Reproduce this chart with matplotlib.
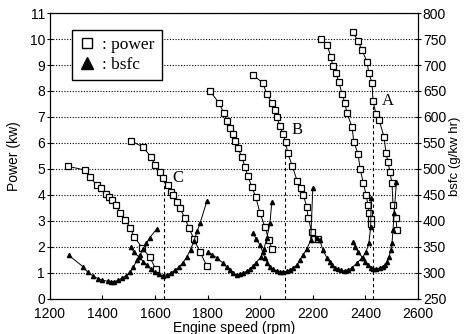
import matplotlib.pyplot as plt
from matplotlib.lines import Line2D

# power curves (engine speed in rpm, power in kW)
p1_rpm = [1270, 1333, 1352, 1379, 1394, 1413, 1424, 1436, 1450, 1468, 1487, 1506, 1521, 1552, 1580, 1603]
p1_kw = [5.1, 4.96, 4.69, 4.38, 4.27, 4.05, 3.92, 3.8, 3.63, 3.31, 3.04, 2.73, 2.38, 1.96, 1.6, 1.15]
p2_rpm = [1508, 1554, 1584, 1600, 1618, 1630, 1649, 1660, 1668, 1683, 1694, 1713, 1729, 1748, 1770, 1797]
p2_kw = [6.08, 5.85, 5.47, 5.15, 4.88, 4.65, 4.38, 4.12, 4.0, 3.73, 3.5, 3.12, 2.73, 2.3, 1.82, 1.27]
p3_rpm = [1809, 1843, 1862, 1873, 1885, 1895, 1904, 1915, 1930, 1942, 1953, 1968, 1983, 1999, 2018, 2033, 2044]
p3_kw = [8.0, 7.54, 7.15, 6.85, 6.58, 6.35, 6.08, 5.81, 5.46, 5.08, 4.73, 4.31, 3.92, 3.31, 2.77, 2.27, 1.94]
p4_rpm = [1972, 2010, 2025, 2044, 2056, 2063, 2075, 2086, 2097, 2104, 2122, 2140, 2155, 2164, 2177, 2182, 2196, 2204, 2218]
p4_kw = [8.62, 8.31, 7.88, 7.54, 7.27, 7.0, 6.65, 6.35, 6.04, 5.62, 5.12, 4.55, 4.25, 4.0, 3.54, 3.12, 2.58, 2.3, 2.3]
p5_rpm = [2230, 2254, 2269, 2276, 2288, 2299, 2311, 2322, 2330, 2349, 2356, 2372, 2380, 2392, 2403, 2410, 2415, 2420, 2422]
p5_kw = [10.0, 9.77, 9.31, 8.96, 8.69, 8.35, 7.88, 7.54, 7.15, 6.62, 6.04, 5.58, 5.0, 4.46, 4.0, 3.6, 3.3, 3.08, 2.88]
p6_rpm = [2352, 2372, 2387, 2406, 2413, 2425, 2429, 2440, 2452, 2471, 2478, 2486, 2493, 2501, 2505, 2516, 2520]
p6_kw = [10.27, 9.92, 9.58, 9.12, 8.69, 8.31, 7.62, 7.12, 6.88, 6.23, 5.62, 5.27, 4.88, 4.46, 3.62, 3.12, 2.65]

# bsfc curves (g/kW hr)
b1_rpm = [1272, 1326, 1345, 1365, 1383, 1400, 1420, 1432, 1445, 1460, 1475, 1490, 1505, 1518, 1531, 1543, 1554, 1567, 1580, 1607]
b1_g = [334, 312, 301, 294, 289, 286, 284, 283, 283, 286, 290, 295, 302, 312, 324, 335, 346, 357, 368, 385]
b2_rpm = [1508, 1520, 1540, 1555, 1570, 1585, 1600, 1615, 1630, 1645, 1660, 1675, 1690, 1705, 1720, 1735, 1748, 1760, 1772, 1797]
b2_g = [350, 340, 330, 322, 315, 307, 301, 297, 295, 296, 300, 305, 311, 319, 330, 345, 362, 380, 397, 438]
b3_rpm = [1801, 1818, 1835, 1858, 1872, 1885, 1898, 1911, 1922, 1934, 1948, 1961, 1972, 1983, 2003, 2014, 2025, 2037, 2044]
b3_g = [340, 335, 329, 319, 312, 306, 300, 296, 297, 300, 303, 307, 313, 319, 331, 346, 367, 396, 436]
b4_rpm = [1972, 1985, 1999, 2010, 2018, 2027, 2037, 2050, 2063, 2075, 2086, 2100, 2113, 2126, 2139, 2150, 2162, 2177, 2192, 2200]
b4_g = [377, 365, 354, 340, 329, 320, 311, 307, 304, 302, 302, 303, 306, 310, 315, 324, 334, 346, 363, 463]
b5_rpm = [2215, 2227, 2238, 2254, 2264, 2272, 2284, 2295, 2308, 2322, 2335, 2349, 2368, 2387, 2402, 2413, 2420, 2422]
b5_g = [367, 363, 344, 329, 321, 315, 310, 307, 305, 304, 306, 310, 319, 329, 340, 357, 388, 445]
b6_rpm = [2352, 2362, 2372, 2390, 2400, 2410, 2420, 2429, 2442, 2455, 2465, 2474, 2483, 2490, 2497, 2501, 2505, 2509, 2518]
b6_g = [359, 350, 340, 329, 322, 315, 310, 307, 307, 310, 312, 315, 322, 331, 345, 357, 382, 415, 475]

power_curves = [(p1_rpm, p1_kw), (p2_rpm, p2_kw), (p3_rpm, p3_kw),
                (p4_rpm, p4_kw), (p5_rpm, p5_kw), (p6_rpm, p6_kw)]
bsfc_curves = [(b1_rpm, b1_g), (b2_rpm, b2_g), (b3_rpm, b3_g),
               (b4_rpm, b4_g), (b5_rpm, b5_g), (b6_rpm, b6_g)]

# operating points marked by dashed lines
mark_names = ['C', 'B', 'A']
mark_rpm = [1635, 2094, 2430]
mark_kw = [4.6, 6.0, 7.5]
mark_text_rpm = [1687, 2140, 2486]
mark_text_kw = [4.65, 6.5, 7.6]

plt.rcParams['font.family'] = ['Liberation Sans', 'DejaVu Sans']

fig = plt.figure(figsize=(4.66, 3.34), dpi=100)
ax = fig.add_axes([0.107, 0.105, 0.79, 0.856])
ax2 = ax.twinx()

for rpm, kw in power_curves:
    ax.plot(rpm, kw, color='black', linewidth=0.7, marker='s', markersize=4.5,
            markerfacecolor='white', markeredgecolor='black', markeredgewidth=0.9, zorder=4)

for rpm, g in bsfc_curves:
    ax2.plot(rpm, g, color='black', linewidth=0.7, marker='^', markersize=3,
             markerfacecolor='black', markeredgecolor='black', zorder=3)

for name, x, top, tx, ty in zip(mark_names, mark_rpm, mark_kw, mark_text_rpm, mark_text_kw):
    ax.plot([x, x], [0, top], color='black', linewidth=0.8, linestyle=(0, (3, 2.5)), zorder=2)
    ax.text(tx, ty, name, family='Liberation Serif', fontsize=12, ha='center', va='center')

ax.set_xlim(1200, 2600)
ax.set_ylim(0, 11)
ax2.set_ylim(250, 800)
ax.set_xticks(range(1200, 2601, 200))
ax.set_yticks(range(0, 12))
ax2.set_yticks(range(250, 801, 50))

ax.grid(axis='y', color='black', linestyle=(0, (1, 1.5)), linewidth=0.8)
ax.set_axisbelow(True)

ax.tick_params(axis='y', direction='inout', length=5, labelsize=10, pad=1)
ax.tick_params(axis='x', direction='in', length=3, labelsize=10, pad=6)
ax2.tick_params(axis='y', direction='inout', length=5, labelsize=10, pad=1)

ax.set_xlabel('Engine speed (rpm)', fontsize=10, labelpad=0)
ax.set_ylabel('Power (kw)', fontsize=10, labelpad=6)
ax2.set_ylabel('bsfc (g/kw hr)', fontsize=9.5, labelpad=2)

handles = [Line2D([], [], linestyle='none', marker='s', markersize=7.5, markerfacecolor='white',
                  markeredgecolor='black', markeredgewidth=1),
           Line2D([], [], linestyle='none', marker='^', markersize=8, color='black')]
leg = ax.legend(handles, [': power', ': bsfc'], loc='upper left', bbox_to_anchor=(0.06, 0.94),
                borderaxespad=0, frameon=True, fancybox=False, edgecolor='black', framealpha=1,
                prop={'family': 'Liberation Serif', 'size': 12.5},
                handlelength=0.9, handletextpad=0.45, borderpad=0.4, labelspacing=0.2)
leg.get_frame().set_linewidth(1.0)
leg.set_zorder(10)

fig.savefig('out.png', dpi=100)
